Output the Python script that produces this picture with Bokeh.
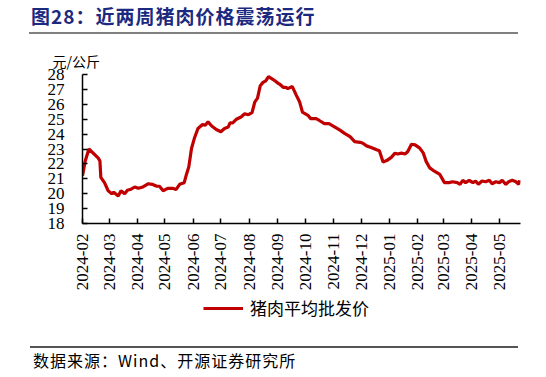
from datetime import datetime
import pandas as pd
from bokeh.plotting import figure
from bokeh.layouts import column
from bokeh.models import (Range1d, MonthsTicker, DatetimeTickFormatter, FixedTicker,
                          Title, Legend, LegendItem, ColumnDataSource, Div)
from bokeh.embed import file_html
from bokeh.resources import INLINE
from math import pi

# ---------------- data ----------------
dates = [
    "2024-02-01", "2024-02-04", "2024-02-08", "2024-02-18", "2024-02-20", "2024-02-21",
    "2024-02-25", "2024-02-29", "2024-03-04", "2024-03-06", "2024-03-11", "2024-03-14",
    "2024-03-18", "2024-03-21", "2024-03-25", "2024-03-29", "2024-04-02", "2024-04-07",
    "2024-04-13", "2024-04-17", "2024-04-22", "2024-04-25", "2024-04-29", "2024-05-04",
    "2024-05-10", "2024-05-13", "2024-05-17", "2024-05-22", "2024-05-24", "2024-05-27",
    "2024-05-30", "2024-06-02", "2024-06-06", "2024-06-11", "2024-06-14", "2024-06-17",
    "2024-06-21", "2024-06-26", "2024-07-01", "2024-07-05", "2024-07-09", "2024-07-11",
    "2024-07-14", "2024-07-18", "2024-07-23", "2024-07-27", "2024-07-31", "2024-08-04",
    "2024-08-07", "2024-08-10", "2024-08-13", "2024-08-16", "2024-08-19", "2024-08-22",
    "2024-08-25", "2024-08-29", "2024-09-01", "2024-09-03", "2024-09-07", "2024-09-10",
    "2024-09-12", "2024-09-17", "2024-09-21", "2024-09-25", "2024-09-28", "2024-10-04",
    "2024-10-07", "2024-10-13", "2024-10-16", "2024-10-22", "2024-10-27", "2024-11-02",
    "2024-11-08", "2024-11-13", "2024-11-19", "2024-11-24", "2024-11-30", "2024-12-03",
    "2024-12-07", "2024-12-12", "2024-12-18", "2024-12-21", "2024-12-25", "2024-12-29",
    "2025-01-03", "2025-01-07", "2025-01-10", "2025-01-14", "2025-01-18", "2025-01-21",
    "2025-01-25", "2025-01-29", "2025-02-03", "2025-02-07", "2025-02-10", "2025-02-14",
    "2025-02-19", "2025-02-25", "2025-02-28", "2025-03-02", "2025-03-07", "2025-03-11",
    "2025-03-16", "2025-03-19", "2025-03-22", "2025-03-25", "2025-03-29", "2025-04-02",
    "2025-04-05", "2025-04-08", "2025-04-12", "2025-04-16", "2025-04-20", "2025-04-23",
    "2025-04-27", "2025-05-01", "2025-05-04", "2025-05-08", "2025-05-11", "2025-05-15",
    "2025-05-19", "2025-05-22", "2025-05-23",
]
prices = [
    21.2, 22.2, 23.0, 22.4, 22.2, 21.1,
    20.74, 20.2, 20.0, 20.1, 19.85, 20.2,
    20.0, 20.23, 20.3, 20.45, 20.36, 20.45,
    20.67, 20.63, 20.5, 20.5, 20.2, 20.36,
    20.36, 20.27, 20.63, 20.74, 21.2, 21.8,
    23.05, 23.7, 24.38, 24.64, 24.6, 24.82,
    24.54, 24.31, 24.16, 24.38, 24.47, 24.75,
    24.75, 25.0, 25.15, 25.37, 25.3, 25.44,
    26.15, 26.41, 27.25, 27.47, 27.58, 27.85,
    27.74, 27.58, 27.43, 27.36, 27.14, 27.14,
    27.05, 27.19, 26.65, 26.15, 25.48, 25.26,
    25.04, 25.04, 24.93, 24.7, 24.7, 24.49,
    24.27, 24.05, 23.83, 23.5, 23.45, 23.39,
    23.21, 23.1, 22.95, 22.88, 22.13, 22.22,
    22.44, 22.72, 22.66, 22.72, 22.66, 22.83,
    23.32, 23.28, 23.06, 22.72, 22.17, 21.73,
    21.51, 21.29, 20.96, 20.74, 20.74, 20.8,
    20.74, 20.63, 20.9, 20.74, 20.9, 20.74,
    20.85, 20.63, 20.85, 20.8, 20.9, 20.67,
    20.8, 20.74, 20.9, 20.63, 20.8, 20.9,
    20.8, 20.63, 20.9,
]
y_ticks = [18, 19, 20, 21, 22, 23, 24, 25, 26, 27, 28]
series_name = "猪肉平均批发价"
title_text = "图28：近两周猪肉价格震荡运行"
unit_text = "元/公斤"
source_text = "数据来源：Wind、开源证券研究所"

W = 546
SERIF = "Liberation Serif"
CJK = "Noto Sans CJK SC"
RED = "#C00000"

# ---------------- header ----------------
hdr = Div(width=W, height=44, margin=0, text=(
    '<div style="position:relative;width:546px;height:44px;margin:0;padding:0;">'
    '<div style="position:absolute;left:31px;top:4px;white-space:nowrap;'
    'font-family:\'Noto Sans CJK SC\';font-weight:bold;font-size:19px;letter-spacing:1px;'
    'line-height:24px;color:#1b2a80;">' + title_text + '</div>'
    '<div style="position:absolute;left:29px;top:32px;width:489px;height:2px;'
    'background:#808080;"></div></div>'))

# ---------------- main ----------------
src = ColumnDataSource(dict(date=pd.to_datetime(dates), price=prices))

p = figure(width=W, height=252, x_axis_type="datetime",
           x_range=Range1d(datetime(2024, 2, 1), datetime(2025, 5, 24)),
           y_range=Range1d(18, 28),
           output_backend="svg", toolbar_location=None,
           min_border_left=82, min_border_right=26, min_border_top=28, min_border_bottom=73)
p.grid.visible = False
p.outline_line_color = None
p.line("date", "price", source=src, line_color=RED, line_width=3.2)

p.xaxis.ticker = MonthsTicker(months=list(range(1, 13)))
p.xaxis.formatter = DatetimeTickFormatter(years="%Y-%m", months="%Y-%m", days="%Y-%m",
                                          hours="%Y-%m", minutes="%Y-%m")
p.xaxis.major_label_orientation = pi / 2
p.yaxis.ticker = FixedTicker(ticks=y_ticks)
for ax in (p.xaxis, p.yaxis):
    ax.axis_line_color = "black"
    ax.axis_line_width = 1.5
    ax.major_tick_line_color = "black"
    ax.major_tick_line_width = 1.5
    ax.major_tick_in = 5
    ax.major_tick_out = 0
    ax.minor_tick_line_color = None
    ax.major_label_text_font = SERIF
    ax.major_label_text_font_size = "17px"
    ax.major_label_text_color = "black"
p.yaxis.major_label_standoff = 18
p.xaxis.major_label_standoff = 10

p.add_layout(Title(text=unit_text, align="left", offset=-30, standoff=8,
                   text_font=CJK, text_font_size="14px", text_font_style="normal",
                   text_color="black"), "above")

# ---------------- legend row ----------------
lg = figure(width=W, height=48, x_range=Range1d(0, 1), y_range=Range1d(0, 1),
            x_axis_location=None, y_axis_location=None,
            output_backend="svg", toolbar_location=None,
            min_border_left=82, min_border_right=26, min_border_top=0, min_border_bottom=0)
lg.grid.visible = False
lg.outline_line_color = None
# same series, drawn outside this row's visible range: only its legend swatch shows
swatch = lg.line("date", "price", source=src, line_color=RED, line_width=3.2)
legend = Legend(items=[LegendItem(label=series_name, renderers=[swatch])], location=(121, 24),
                glyph_width=40, glyph_height=20, label_standoff=7, padding=0, margin=0,
                border_line_color=None, background_fill_alpha=0,
                label_text_font=CJK, label_text_font_size="17px", label_text_color="black")
lg.add_layout(legend)

# ---------------- footer ----------------
ftr = Div(width=W, height=33, margin=0, text=(
    '<div style="position:relative;width:546px;height:33px;margin:0;padding:0;">'
    '<div style="position:absolute;left:30px;top:2px;width:488px;height:1.5px;'
    'background:#555555;"></div>'
    '<div style="position:absolute;left:33px;top:6px;white-space:nowrap;'
    'font-family:\'Noto Sans CJK SC\';font-size:16px;letter-spacing:1px;line-height:20px;'
    'color:black;">' + source_text + '</div></div>'))

layout = column(hdr, p, lg, ftr, spacing=0)
open("out.html", "w").write(file_html(layout, INLINE))
